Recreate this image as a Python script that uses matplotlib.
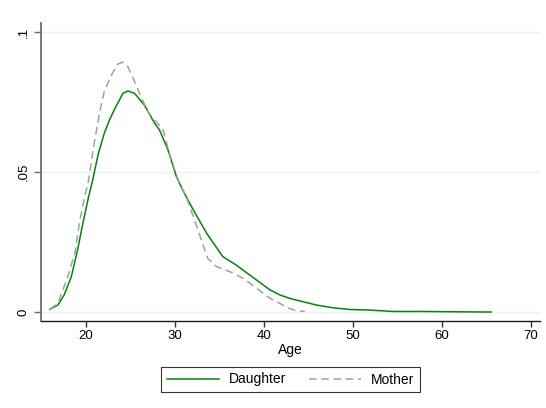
import matplotlib
matplotlib.use("Agg")
import matplotlib.pyplot as plt

plt.rcParams['font.family'] = ['Liberation Sans', 'DejaVu Sans']

# Daughter density curve (age, density)
daughter_age = [16.0, 16.9, 17.6, 18.4, 19.1, 19.7, 20.3, 20.8, 21.4, 22.1, 22.7, 23.3,
                24.2, 24.75, 25.5, 26.6, 27.75, 28.3, 29.25, 30.2, 30.9, 32.1, 33.6,
                35.4, 36.9, 38.0, 39.2, 40.7, 41.8, 43.0, 44.0, 45.9, 47.8, 49.7, 51.9,
                54.5, 58.0, 61.0, 65.5]
daughter_den = [0.0010, 0.0025, 0.0061, 0.0126, 0.0221, 0.0317, 0.0406, 0.0471, 0.0561,
                0.0638, 0.0687, 0.0727, 0.0781, 0.0789, 0.0781, 0.0739, 0.0674, 0.0650,
                0.0579, 0.0483, 0.0436, 0.0364, 0.0281, 0.0198, 0.0168, 0.0142, 0.0114,
                0.0079, 0.0061, 0.0048, 0.0040, 0.0025, 0.0015, 0.0009, 0.0007, 0.0002,
                0.0002, 0.0001, 0.0000]

# Mother density curve (age, density)
mother_age = [16.0, 16.9, 18.0, 18.8, 19.3, 19.9, 20.3, 21.0, 21.6, 22.1, 22.9, 23.6,
              24.2, 24.75, 25.5, 26.3, 27.0, 27.75, 28.7, 29.4, 30.4, 31.3, 32.1, 33.0,
              33.7, 34.7, 36.2, 37.7, 39.2, 40.7, 41.8, 42.5, 43.5, 44.6]
mother_den = [0.0010, 0.0031, 0.0126, 0.0210, 0.0317, 0.0412, 0.0465, 0.0608, 0.0715,
              0.0787, 0.0846, 0.0885, 0.0892, 0.0876, 0.0823, 0.0763, 0.0715, 0.0686,
              0.0650, 0.0567, 0.0471, 0.0412, 0.0340, 0.0257, 0.0192, 0.0162, 0.0144,
              0.0120, 0.0085, 0.0049, 0.0031, 0.0018, 0.0006, 0.0002]

xticks = [20, 30, 40, 50, 60, 70]
yticks = [0, 0.05, 0.1]
ytick_labels = ['0', '.05', '.1']

fig = plt.figure(figsize=(5.46, 4.08), dpi=100)
ax = fig.add_axes([41/546, 1-321/408, (540-41)/546, (321-23)/408])

ax.plot(daughter_age, daughter_den, color='#0a820a', lw=1.1, label='Daughter')
ax.plot(mother_age, mother_den, color='#a0a0a0', lw=1.1, ls=(0, (5, 3)), label='Mother')

ax.set_xlim(15, 71)
ax.set_ylim(-0.0032, 0.1032)
ax.set_xticks(xticks)
ax.set_yticks(yticks)
ax.set_yticklabels(ytick_labels, rotation=90, va='center')
ax.grid(axis='y', color='#eaf2f3', lw=1.0)
ax.set_axisbelow(True)
for s in ['top', 'right']:
    ax.spines[s].set_visible(False)
ax.spines['left'].set_color('#6e6e6e')
ax.spines['left'].set_linewidth(1.3)
ax.spines['bottom'].set_color('#1a1a1a')
ax.spines['bottom'].set_linewidth(1.0)
ax.tick_params(axis='y', length=5, width=1.0, color='#6e6e6e', labelsize=9.5, pad=3)
ax.tick_params(axis='x', length=4.5, width=1.0, color='#333333', labelsize=9.5, pad=2)
ax.set_xlabel('Age', fontsize=10, labelpad=1)

leg = fig.legend(loc='center', bbox_to_anchor=(290.5/546, 1-379.5/408), ncol=2,
                 fontsize=10, frameon=True, fancybox=False, handlelength=3.75,
                 columnspacing=1.65, handletextpad=0.7, borderpad=0.4,
                 borderaxespad=0)
leg.get_frame().set_edgecolor('black')
leg.get_frame().set_linewidth(0.8)

fig.savefig('out.png', dpi=100)
